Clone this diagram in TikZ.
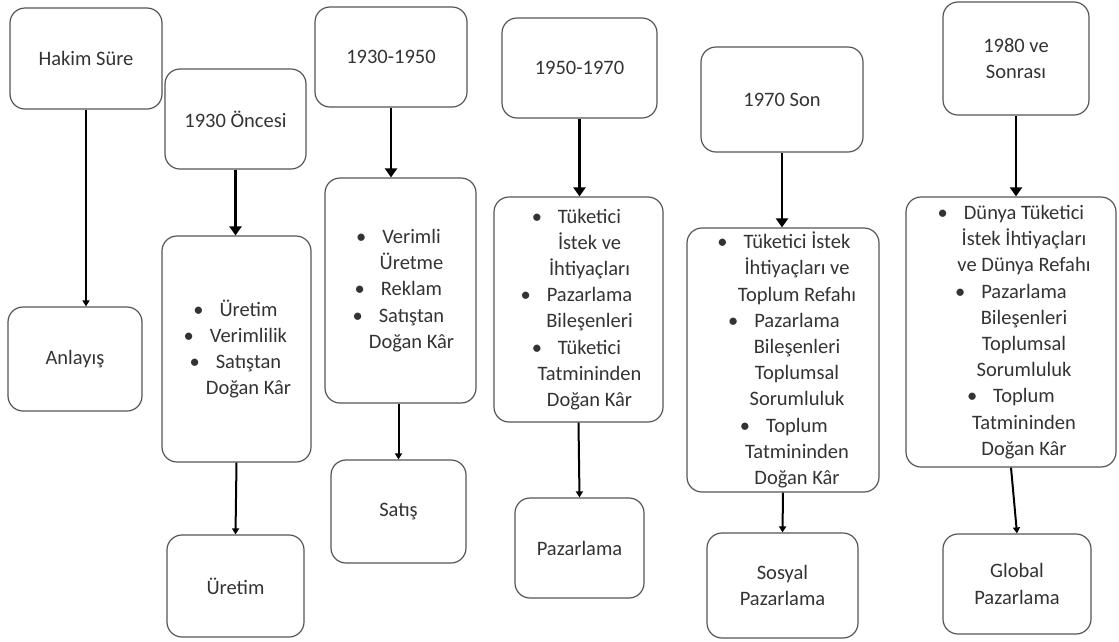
\documentclass[tikz,border=0pt]{standalone}
\usepackage{fontspec}
\setmainfont{Carlito}
\usetikzlibrary{arrows.meta}
\definecolor{boxgray}{HTML}{555555}
\definecolor{txtgray}{HTML}{333333}
\newcommand\bul{\llap{\textbullet\hspace{16pt}}}
\begin{document}
\begin{tikzpicture}[x=1pt,y=-1pt,
  box/.style={draw=boxgray, line width=1.2pt, rounded corners=15pt, inner sep=0pt,
    text=txtgray, align=center, font=\fontsize{20.5}{26.2}\selectfont},
  txt/.style={inner sep=0pt, text=txtgray, align=center, font=\fontsize{20.5}{26.2}\selectfont},
  bigarr/.style={draw=black, line width=2.8pt, -{Triangle[length=9pt,width=12pt]}},
  smallarr/.style={draw=black, line width=2pt, -{Triangle[length=6pt,width=7pt]}}]
\useasboundingbox (0,0) rectangle (1119,641);
% column 1
\node[box, minimum width=152pt, minimum height=101pt] (h1) at (86,58.5) {Hakim Süre};
\node[box, minimum width=134pt, minimum height=104pt] (a1) at (75,359) {Anlayış};
% column 2
\node[box, minimum width=141pt, minimum height=100pt] (h2) at (235.5,119) {1930 Öncesi};
\node[box, minimum width=149pt, minimum height=226pt] (b2) at (236.5,349) {};
\node[txt, xshift=12pt] (b2t) at (b2) {\bul Üretim\\ \bul Verimlilik\\ \bul Satıştan\\ Doğan Kâr};
\node[box, minimum width=137pt, minimum height=102pt] (u2) at (235.5,586) {Üretim};
% column 3
\node[box, minimum width=152pt, minimum height=100pt] (h3) at (391,57) {1930-1950};
\node[box, minimum width=151pt, minimum height=225pt] (b3) at (400.5,290.5) {};
\node[txt, xshift=11pt] (b3t) at (b3) {\bul Verimli\\ Üretme\\ \bul Reklam\\ \bul Satıştan\\ Doğan Kâr};
\node[box, minimum width=135pt, minimum height=103pt] (s3) at (398.5,511.5) {Satış};
% column 4
\node[box, minimum width=155pt, minimum height=100pt] (h4) at (579.5,68) {1950-1970};
\node[box, minimum width=169pt, minimum height=225pt] (b4) at (578.5,309.5) {};
\node[txt, xshift=11pt] (b4t) at (b4) {\bul Tüketici\\ İstek ve\\ İhtiyaçları\\ \bul Pazarlama\\ Bileşenleri\\ \bul Tüketici\\ Tatmininden\\ Doğan Kâr};
\node[box, minimum width=129pt, minimum height=100pt] (p4) at (579.5,548) {Pazarlama};
% column 5
\node[box, minimum width=162pt, minimum height=105pt] (h5) at (782,99.5) {1970 Son};
\node[box, minimum width=192pt, minimum height=264pt] (b5) at (783,360) {};
\node[txt, xshift=14pt] (b5t) at (b5) {\bul Tüketici İstek\\ İhtiyaçları ve\\ Toplum Refahı\\ \bul Pazarlama\\ Bileşenleri\\ Toplumsal\\ Sorumluluk\\ \bul Toplum\\ Tatmininden\\ Doğan Kâr};
\node[box, minimum width=151pt, minimum height=105pt] (s5) at (782.5,585.5) {Sosyal\\ Pazarlama};
% column 6
\node[box, minimum width=146pt, minimum height=113pt] (h6) at (1016,58.5) {1980 ve\\ Sonrası};
\node[box, minimum width=210pt, minimum height=270pt] (b6) at (1011,332) {};
\node[txt, xshift=13pt] (b6t) at (b6) {\bul Dünya Tüketici\\ İstek İhtiyaçları\\ ve Dünya Refahı\\ \bul Pazarlama\\ Bileşenleri\\ Toplumsal\\ Sorumluluk\\ \bul Toplum\\ Tatmininden\\ Doğan Kâr};
\node[box, minimum width=148pt, minimum height=100pt] (g6) at (1017,584) {Global\\ Pazarlama};
% arrows
\draw[smallarr] (h1.south) -- (h1.south |- a1.north);
\draw[bigarr] (h2.south) -- (h2.south |- b2.north);
\draw[smallarr] (b2.south) -- (u2.north);
\draw[bigarr] (h3.south) -- (h3.south |- b3.north);
\draw[smallarr] (s3.north |- b3.south) -- (s3.north);
\draw[bigarr] (h4.south) -- (h4.south |- b4.north);
\draw[smallarr] (b4.south) -- (p4.north);
\draw[bigarr] (h5.south) -- (h5.south |- b5.north);
\draw[smallarr] (b5.south) -- (s5.north);
\draw[bigarr] (h6.south) -- (h6.south |- b6.north);
\draw[smallarr] (b6.south) -- (g6.north);
\end{tikzpicture}
\end{document}
